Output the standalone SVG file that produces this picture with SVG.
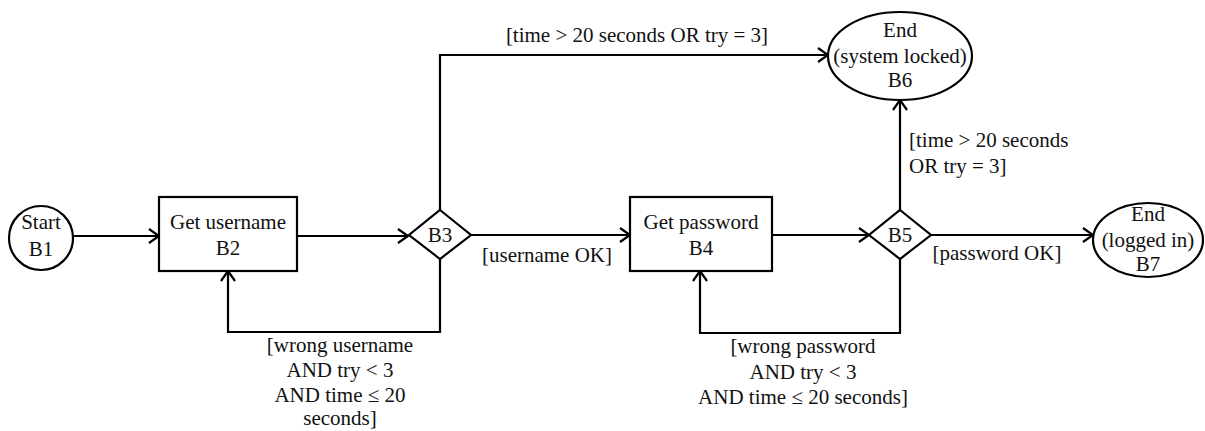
<svg xmlns="http://www.w3.org/2000/svg" width="1205" height="431" viewBox="0 0 1205 431">
<style>
.s{fill:#fff;stroke:#000;stroke-width:2.2}
.l{fill:none;stroke:#000;stroke-width:2.2;marker-end:url(#a)}
text{font-family:"Liberation Serif","DejaVu Serif",serif;font-size:21px;fill:#111;text-anchor:middle}
.st{text-anchor:start}
</style>
<defs>
<marker id="a" markerWidth="14" markerHeight="16" refX="12" refY="8" orient="auto" markerUnits="userSpaceOnUse">
<path d="M2,1 L12,8 L2,15" fill="none" stroke="#000" stroke-width="2.2"/>
</marker>
</defs>
<rect width="1205" height="431" fill="#fff"/>
<g id="connectors">
<line class="l" x1="73" y1="236" x2="159" y2="236"/>
<line class="l" x1="297" y1="236" x2="408" y2="236"/>
<line class="l" x1="471" y1="235" x2="630" y2="235"/>
<line class="l" x1="772" y1="235" x2="869" y2="235"/>
<line class="l" x1="931" y1="235" x2="1093" y2="235"/>
<polyline class="l" points="440,210 440,55 828,55"/>
<line class="l" x1="900" y1="210" x2="900" y2="100"/>
<polyline class="l" points="440,259 440,332 228,332 228,271"/>
<polyline class="l" points="900,259 900,333 700,333 700,271"/>
<text x="637" y="42">[time &gt; 20 seconds OR try = 3]</text>
<text x="547" y="262">[username OK]</text>
<text x="997" y="260">[password OK]</text>
<text class="st" x="909" y="147">[time &gt; 20 seconds</text>
<text class="st" x="909" y="173">OR try = 3]</text>
<text x="340" y="352">[wrong username</text>
<text x="340" y="377">AND try &lt; 3</text>
<text x="340" y="402">AND time ≤ 20</text>
<text x="340" y="425">seconds]</text>
<text x="803" y="353">[wrong password</text>
<text x="803" y="379">AND try &lt; 3</text>
<text x="803" y="404">AND time ≤ 20 seconds]</text>
</g>
<g id="B1">
<circle class="s" cx="41" cy="238" r="32"/>
<text x="41" y="229">Start</text>
<text x="41" y="256">B1</text>
</g>
<g id="B2">
<rect class="s" x="159" y="197" width="138" height="74"/>
<text x="228" y="229">Get username</text>
<text x="228" y="255">B2</text>
</g>
<g id="B3">
<polygon class="s" points="440,210 471,235 440,259 409,235"/>
<text x="440" y="242">B3</text>
</g>
<g id="B4">
<rect class="s" x="630" y="197" width="142" height="74"/>
<text x="701" y="229">Get password</text>
<text x="701" y="255">B4</text>
</g>
<g id="B5">
<polygon class="s" points="900,210 931,235 900,259 869,235"/>
<text x="900" y="242">B5</text>
</g>
<g id="B6">
<ellipse class="s" cx="900" cy="56" rx="72" ry="44"/>
<text x="900" y="37">End</text>
<text x="900" y="63">(system locked)</text>
<text x="900" y="87">B6</text>
</g>
<g id="B7">
<ellipse class="s" cx="1148" cy="240" rx="55" ry="37"/>
<text x="1148" y="221">End</text>
<text x="1148" y="247">(logged in)</text>
<text x="1148" y="271">B7</text>
</g>
</svg>
